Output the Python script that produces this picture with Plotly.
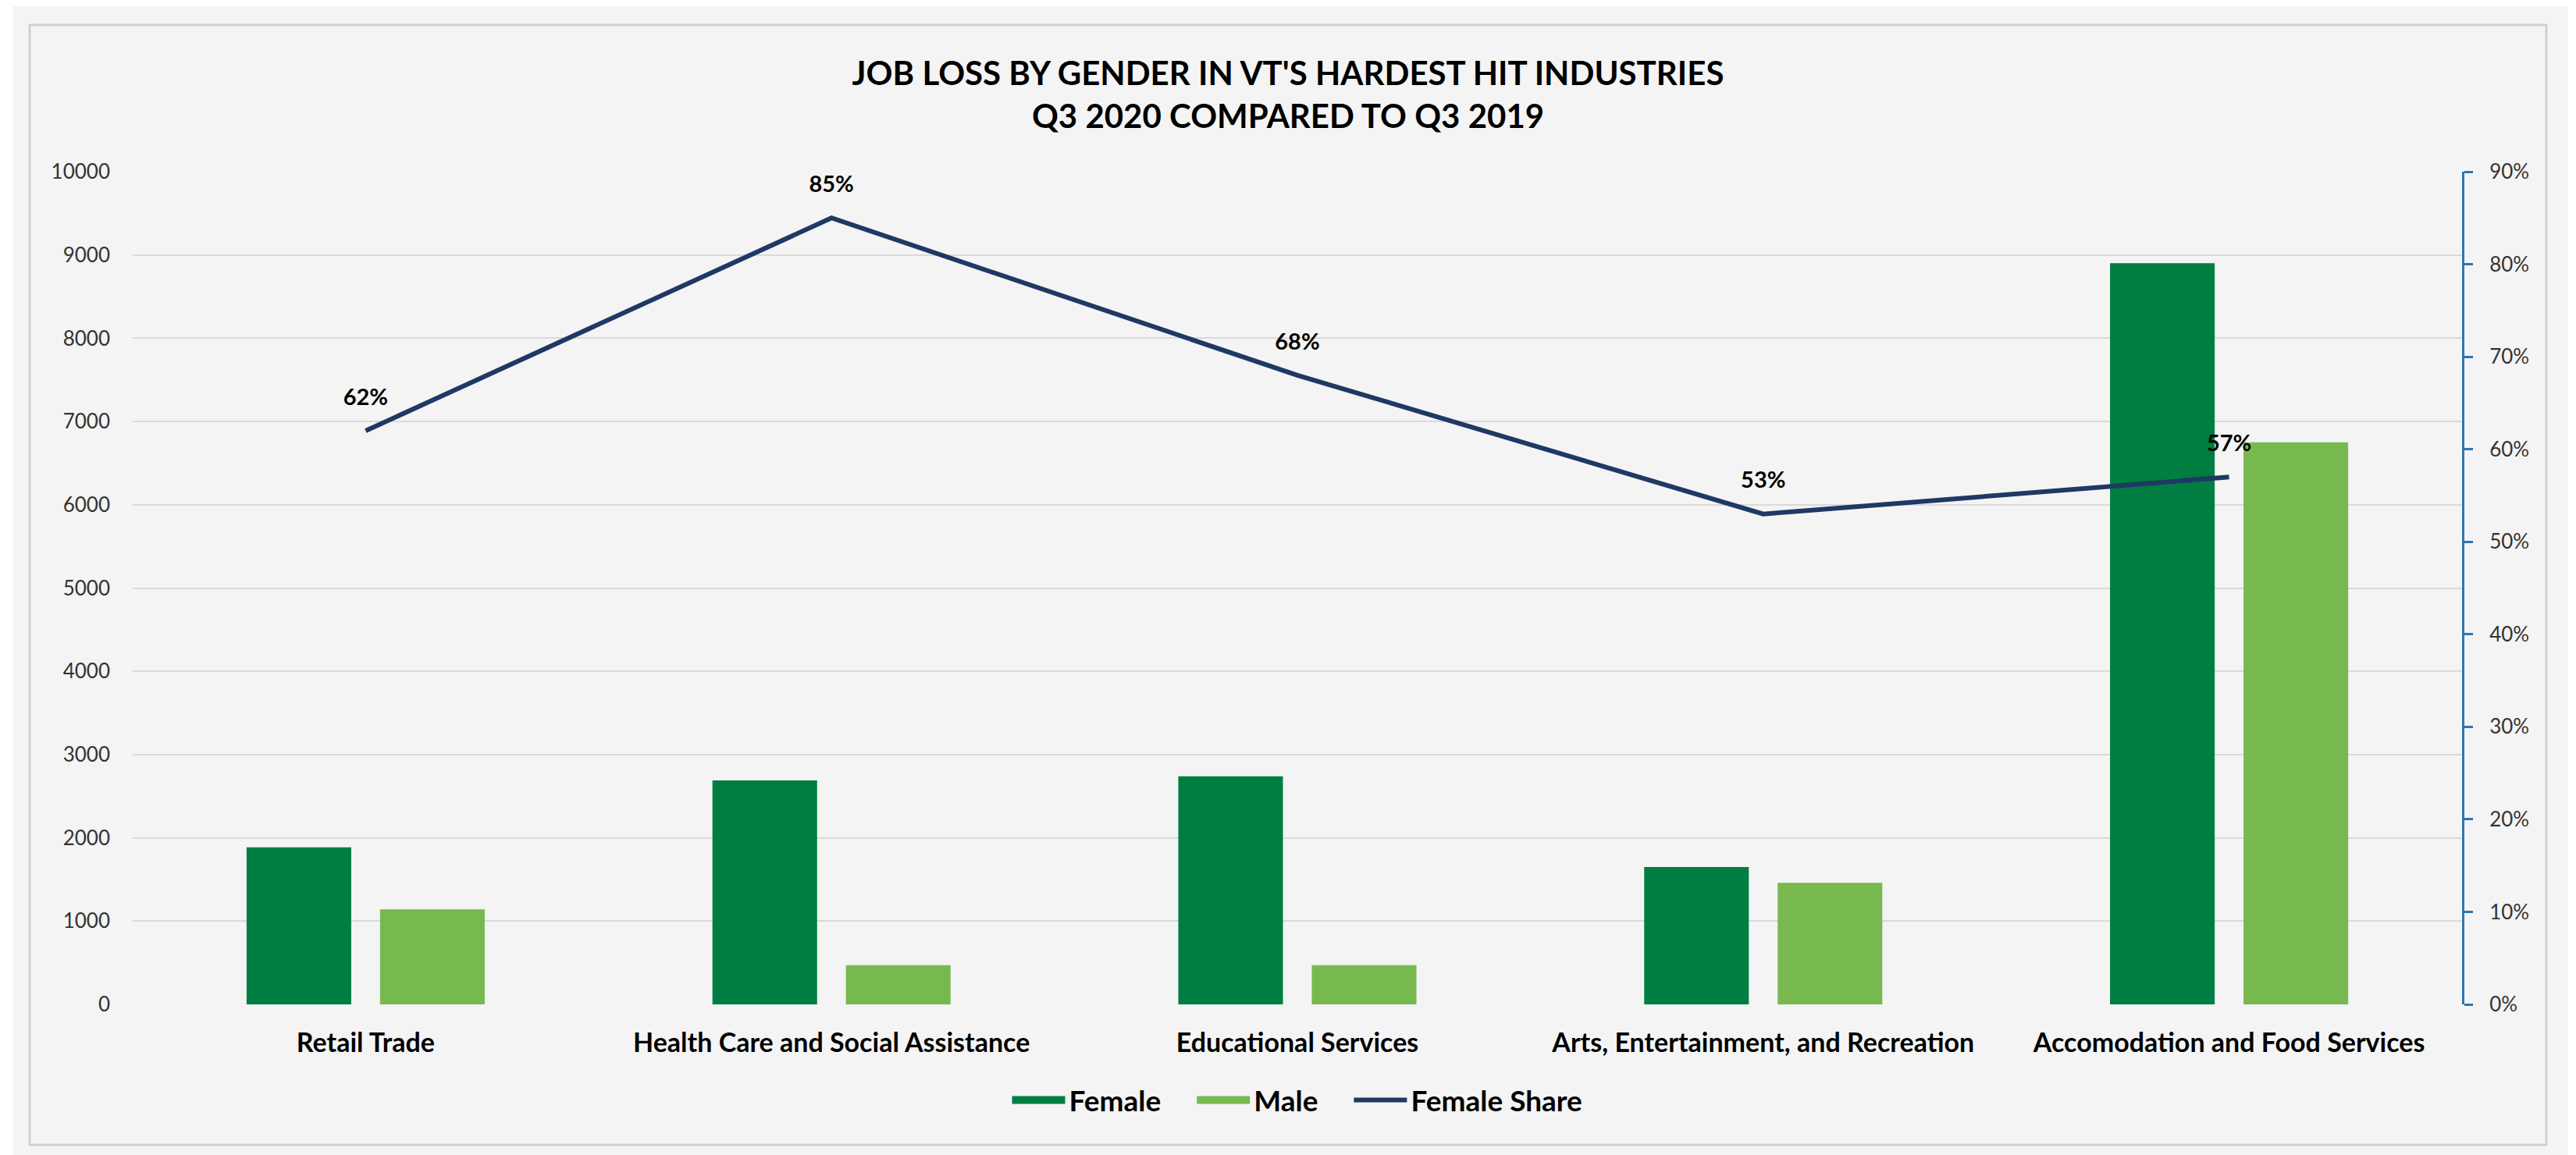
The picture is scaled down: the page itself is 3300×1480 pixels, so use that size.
import plotly.graph_objects as go

# Datos
industries = ["Retail Trade", "Health Care and Social Assistance", "Educational Services",
              "Arts, Entertainment, and Recreation", "Accomodation and Food Services"]
female_loss = [1885, 2690, 2740, 1650, 8900]
male_loss = [1140, 470, 470, 1460, 6750]
female_share = [0.62, 0.85, 0.68, 0.53, 0.57]
share_labels = ["62%", "85%", "68%", "53%", "57%"]

FEMALE_C = "#007d40"
MALE_C = "#77b94f"
SHARE_C = "#1f3864"
FONT = "Lato, 'Open Sans', sans-serif"

# Geometría en píxeles de la página (el body tiene 8px de margen)
W, H, OFF = 3300, 1480, 8
PX0, PX1, PY0, PY1 = 170, 3154, 220, 1287   # área de trazado
L, T = PX0 - OFF, PY0 - OFF
R, B = OFF + W - PX1, OFF + H - PY1
pw, ph = PX1 - PX0, PY1 - PY0


def px(x):
    return (x - PX0) / pw


def py(y):
    return (PY1 - y) / ph


fig = go.Figure()

fig.add_trace(go.Bar(
    x=industries, y=female_loss, name="Female", showlegend=False,
    marker=dict(color=FEMALE_C, line=dict(width=0)),
))
fig.add_trace(go.Bar(
    x=industries, y=male_loss, name="Male", showlegend=False,
    marker=dict(color=MALE_C, line=dict(width=0)),
))

# Entradas de leyenda con muestras anchas (estilo Excel); nbsp para separar entradas
SEP = "\u00a0" * 4
for name, color in [("Female", FEMALE_C), ("Male", MALE_C)]:
    fig.add_trace(go.Scatter(
        x=[None], y=[None], name=name + SEP, mode="lines",
        line=dict(color=color, width=22), hoverinfo="skip",
    ))

fig.add_trace(go.Scatter(
    x=industries, y=female_share, name="Female Share", yaxis="y2",
    mode="lines+markers+text",
    line=dict(color=SHARE_C, width=6),
    marker=dict(size=40, color="rgba(0,0,0,0)"),
    text=share_labels, textposition="top center",
    textfont=dict(family=FONT, size=29, color="#000000", weight="bold"),
))

# Fondo gris y borde del gráfico
fig.add_shape(
    type="rect", xref="paper", yref="paper",
    x0=px(17), x1=px(3290), y0=py(1500), y1=py(7),
    fillcolor="#f4f4f4", line=dict(width=0), layer="below",
)
fig.add_shape(
    type="rect", xref="paper", yref="paper",
    x0=px(38), x1=px(3262), y0=py(1467), y1=py(32),
    line=dict(color="#d0d0d0", width=3), layer="below",
)

fig.update_layout(
    width=W, height=H,
    margin=dict(l=L, r=R, t=T, b=B),
    paper_bgcolor="#ffffff", plot_bgcolor="rgba(0,0,0,0)",
    font=dict(family=FONT, color="#000000"),
    title=dict(
        text="JOB LOSS BY GENDER IN VT'S HARDEST HIT INDUSTRIES<br>Q3 2020 COMPARED TO Q3 2019",
        x=(1650 - OFF) / W, xanchor="center",
        y=1 - (123 - OFF - 14) / H, yanchor="middle",
        font=dict(family=FONT, size=42, color="#000000", weight="bold"),
    ),
    barmode="group", bargap=0.427, bargroupgap=0.216,
    xaxis=dict(
        showgrid=False, showline=False, zeroline=False,
        tickfont=dict(family=FONT, size=34, color="#000000", weight="bold"),
        ticklabelstandoff=26,
    ),
    yaxis=dict(
        range=[0, 10000], dtick=1000, tickformat="d",
        showgrid=True, gridcolor="#d9d9d9", gridwidth=2,
        zeroline=False, showline=False,
        tickfont=dict(family=FONT, size=26, color="#333333"),
        ticklabelstandoff=28,
    ),
    yaxis2=dict(
        overlaying="y", side="right",
        range=[0, 0.9], dtick=0.1, tickformat=".0%",
        showgrid=False, zeroline=False,
        showline=True, linecolor="#2e75b6", linewidth=3,
        ticks="outside", ticklen=11, tickcolor="#2e75b6", tickwidth=3,
        tickfont=dict(family=FONT, size=26, color="#333333"),
        ticklabelstandoff=16,
    ),
    legend=dict(
        orientation="h", x=0.5, xanchor="center",
        y=py(1410), yanchor="middle",
        font=dict(family=FONT, size=37, color="#000000", weight="bold"),
        itemwidth=68, bgcolor="rgba(0,0,0,0)",
    ),
)

fig.write_html("out.html")
